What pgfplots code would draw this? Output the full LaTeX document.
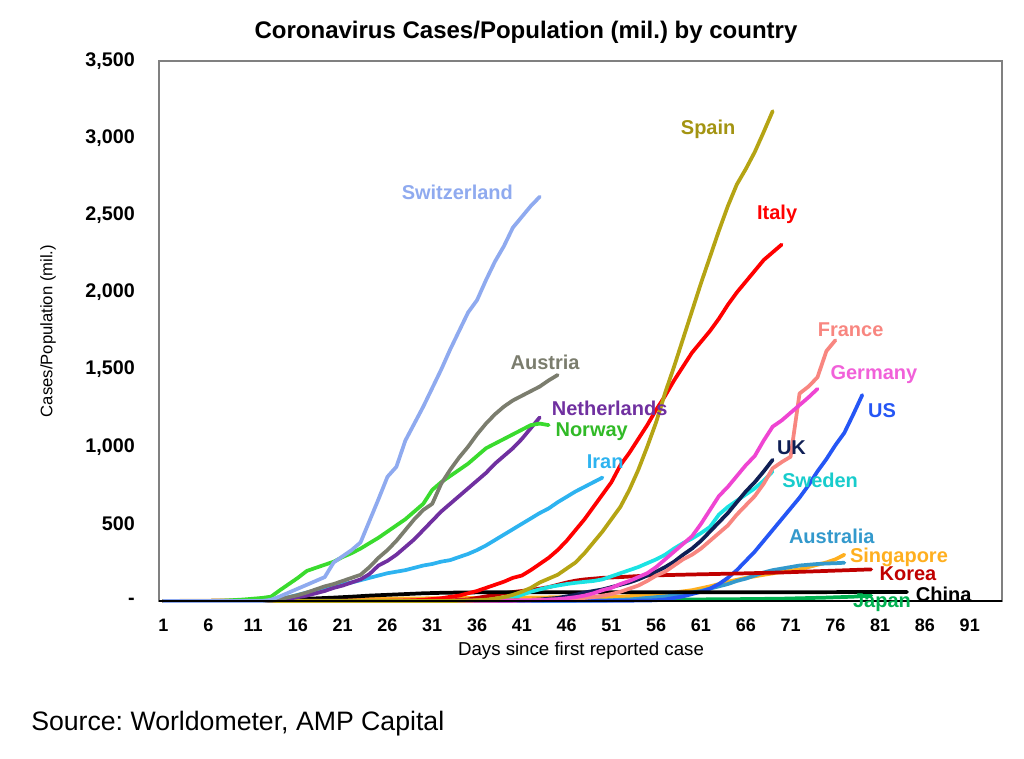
\documentclass[border=0pt]{standalone}
\usepackage{fontspec}
\setmainfont{Liberation Sans}
\usepackage{pgfplots}
\pgfplotsset{compat=1.18}
\definecolor{cSwi}{HTML}{8FAAEF}
\definecolor{cAut}{HTML}{7B7D6E}
\definecolor{cNet}{HTML}{7030A0}
\definecolor{cNor}{HTML}{3ADB2E}
\definecolor{cIra}{HTML}{2DB3F0}
\definecolor{cSpa}{HTML}{B5A414}
\definecolor{cIta}{HTML}{FF0000}
\definecolor{cFra}{HTML}{F88680}
\definecolor{cGer}{HTML}{EF45D2}
\definecolor{cUS}{HTML}{2556F5}
\definecolor{cUK}{HTML}{0F1F55}
\definecolor{cSwe}{HTML}{1BE3E3}
\definecolor{cAus}{HTML}{3399CC}
\definecolor{cSin}{HTML}{FFAF1F}
\definecolor{cKor}{HTML}{C00000}
\definecolor{cChi}{HTML}{000000}
\definecolor{cJap}{HTML}{00B050}
\tikzset{lbl/.style={font=\bfseries\fontsize{15}{17}\selectfont, inner sep=0pt}}
\frenchspacing
\begin{document}
\begin{tikzpicture}
\begin{axis}[
  scale only axis, width=632.25pt, height=405pt,
  xmin=0.5, xmax=94.6, ymin=0, ymax=3500,
  xtick={1,6,...,91},
  xticklabels={1,6,11,16,21,26,31,36,41,46,51,56,61,66,71,76,81,86,91},
  ytick={0,500,...,3500},
  yticklabels={-,500,{1,000},{1,500},{2,000},{2,500},{3,000},{3,500}},
  major tick length=0pt,
  axis line style={draw=gray, line width=0.8pt},
  xticklabel style={font=\bfseries\fontsize{13.5}{15}\selectfont, anchor=north, inner sep=0pt, yshift=-13.5pt},
  yticklabel style={font=\bfseries\fontsize{14.8}{16}\selectfont, anchor=east, inner sep=0pt, xshift=-18pt},
  clip=false,
  every axis plot/.append style={line width=2.8pt, line join=round, line cap=round},
]
\coordinate (O) at (rel axis cs:0,0);
% Japan
\addplot[color=cJap] coordinates {(1,0)(20,0.5)(30,1)(40,3)(50,6)(55,8)(60,10)(65,12)(70,15)(75,22)(78,28)(80,35)};
% Singapore
\addplot[color=cSin] coordinates {(1,0)(5,2)(10,4)(15,8)(20,12)(25,15)(30,17)(35,19)(40,22)(45,24)(50,25)(52,28)(54,35)(56,45)(58,55)(60,70)(62,95)(64,125)(66,150)(68,170)(70,188)(72,205)(74,235)(75,250)(76,270)(77,300)};
% Australia
\addplot[color=cAus] coordinates {(1,0)(40,1)(50,3)(51,5)(52,8)(53,10)(54,15)(55,20)(56,25)(57,30)(58,35)(59,45)(60,55)(61,65)(62,80)(63,95)(64,110)(65,130)(66,145)(67,165)(68,185)(69,200)(70,210)(71,220)(72,230)(73,235)(74,240)(75,243)(76,245)(77,248)};
% US
\addplot[color=cUS] coordinates {(1,0)(50,1)(55,3)(56,5)(57,10)(58,20)(59,30)(60,45)(61,60)(62,80)(63,110)(64,150)(65,200)(66,260)(67,320)(68,390)(69,460)(70,530)(71,600)(72,670)(73,750)(74,840)(75,920)(76,1010)(77,1090)(78,1210)(79,1335)};
% Korea
\addplot[color=cKor] coordinates {(1,0)(29,1)(31,1)(32,2)(33,4)(34,7)(35,10)(36,20)(37,30)(38,40)(39,50)(40,58)(41,65)(42,72)(43,80)(44,90)(45,105)(46,120)(47,132)(48,140)(49,145)(50,150)(52,155)(55,165)(60,172)(65,178)(70,185)(75,195)(80,205)};
% China
\addplot[color=cChi] coordinates {(1,0)(5,0.5)(10,2)(12,4)(14,8)(16,12)(18,17)(20,22)(22,28)(24,35)(26,40)(28,45)(30,50)(32,53)(34,55)(36,56)(40,57)(50,57)(60,57)(70,57)(80,58)(84,58)};
% Sweden
\addplot[color=cSwe] coordinates {(1,0)(37,0.5)(38,2)(39,8)(40,20)(41,40)(42,60)(43,75)(44,90)(45,100)(46,110)(47,118)(48,124)(49,130)(50,140)(51,160)(52,180)(53,200)(54,220)(55,245)(56,270)(57,300)(58,340)(59,375)(60,405)(61,440)(62,480)(63,560)(64,610)(65,650)(66,690)(67,730)(68,780)(69,840)};
% UK
\addplot[color=cUK] coordinates {(1,0)(35,0)(36,1)(37,1)(38,2)(39,3)(40,4)(41,5)(42,7)(43,10)(44,15)(45,20)(46,30)(47,40)(48,55)(49,65)(50,75)(51,90)(52,105)(53,120)(54,140)(55,165)(56,190)(57,220)(58,255)(59,300)(60,340)(61,390)(62,450)(63,510)(64,570)(65,640)(66,710)(67,770)(68,840)(69,915)};
% France
\addplot[color=cFra] coordinates {(1,0)(35,2)(40,5)(45,10)(46,12)(47,15)(48,20)(49,25)(50,35)(51,45)(52,60)(53,80)(54,100)(55,130)(56,165)(57,190)(58,230)(59,270)(60,300)(61,340)(62,390)(63,440)(64,490)(65,560)(66,620)(67,680)(68,760)(69,860)(70,900)(71,935)(72,1345)(73,1390)(74,1450)(75,1620)(76,1690)};
% Germany
\addplot[color=cGer] coordinates {(1,0)(30,1)(40,2)(41,3)(42,4)(43,5)(44,8)(45,12)(46,18)(47,25)(48,35)(49,50)(50,70)(51,85)(52,110)(53,130)(54,155)(55,180)(56,220)(57,270)(58,320)(59,370)(60,420)(61,500)(62,590)(63,680)(64,740)(65,810)(66,880)(67,940)(68,1040)(69,1130)(70,1170)(71,1220)(72,1270)(73,1320)(74,1375)};
% Iran
\addplot[color=cIra] coordinates {(1,0)(10,0)(11,1)(12,3)(13,8)(14,15)(15,25)(16,40)(17,55)(18,70)(19,85)(20,100)(21,110)(22,120)(23,135)(24,150)(25,165)(26,180)(27,190)(28,200)(29,215)(30,230)(31,240)(32,255)(33,265)(34,285)(35,305)(36,330)(37,360)(38,395)(39,430)(40,465)(41,500)(42,535)(43,570)(44,600)(45,640)(46,675)(47,710)(48,740)(49,770)(50,800)};
% Italy
\addplot[color=cIta] coordinates {(1,0)(20,0)(21,1)(27,1)(28,3)(29,5)(30,8)(31,13)(32,18)(33,27)(34,35)(35,50)(36,65)(37,85)(38,105)(39,125)(40,150)(41,165)(42,200)(43,240)(44,280)(45,330)(46,390)(47,460)(48,530)(49,610)(50,690)(51,770)(52,880)(53,960)(54,1050)(55,1140)(56,1240)(57,1330)(58,1430)(59,1520)(60,1610)(61,1680)(62,1750)(63,1830)(64,1920)(65,2000)(66,2070)(67,2140)(68,2210)(69,2260)(70,2310)};
% Spain
\addplot[color=cSpa] coordinates {(1,0)(33,0)(34,1)(35,3)(36,5)(37,8)(38,15)(39,25)(40,40)(41,60)(42,85)(43,120)(44,145)(45,170)(46,210)(47,250)(48,310)(49,380)(50,450)(51,530)(52,610)(53,720)(54,850)(55,1000)(56,1160)(57,1350)(58,1520)(59,1700)(60,1880)(61,2060)(62,2230)(63,2400)(64,2560)(65,2700)(66,2800)(67,2910)(68,3040)(69,3175)};
% Netherlands
\addplot[color=cNet] coordinates {(1,0)(12,0)(13,3)(14,8)(15,15)(16,25)(17,35)(18,50)(19,65)(20,85)(21,100)(22,120)(23,140)(24,175)(25,230)(26,260)(27,300)(28,350)(29,400)(30,460)(31,520)(32,580)(33,630)(34,680)(35,730)(36,780)(37,830)(38,890)(39,940)(40,990)(41,1050)(42,1120)(43,1190)};
% Norway
\addplot[color=cNor] coordinates {(1,0)(7,0)(8,3)(10,10)(12,20)(13,28)(14,70)(15,110)(16,150)(17,195)(18,215)(19,235)(20,255)(21,285)(22,310)(23,340)(24,375)(25,410)(26,450)(27,490)(28,530)(29,580)(30,630)(31,720)(32,770)(33,810)(34,850)(35,890)(36,940)(37,990)(38,1020)(39,1050)(40,1080)(41,1110)(42,1140)(43,1150)(44,1140)};
% Austria
\addplot[color=cAut] coordinates {(1,0)(12,0)(13,2)(14,12)(15,25)(16,38)(17,55)(18,75)(19,95)(20,110)(21,130)(22,150)(23,170)(24,220)(25,280)(26,330)(27,390)(28,460)(29,530)(30,590)(31,630)(32,760)(33,850)(34,930)(35,1000)(36,1080)(37,1150)(38,1210)(39,1260)(40,1300)(41,1330)(42,1360)(43,1390)(44,1430)(45,1465)};
% Switzerland
\addplot[color=cSwi] coordinates {(1,0)(12,0)(13,8)(14,30)(15,55)(16,80)(17,105)(18,130)(19,155)(20,250)(21,290)(22,330)(23,380)(24,520)(25,660)(26,805)(27,870)(28,1040)(29,1150)(30,1260)(31,1380)(32,1500)(33,1630)(34,1750)(35,1870)(36,1950)(37,2080)(38,2200)(39,2300)(40,2420)(41,2490)(42,2560)(43,2620)};
\draw[black, line width=1pt] (axis cs:0.5,0) -- (axis cs:94.6,0);
% labels
\node[lbl, text=cSwi] at (axis cs:33.8,2649) {Switzerland};
\node[lbl, text=cAut] at (axis cs:43.6,1545) {Austria};
\node[lbl, text=cNet] at (axis cs:50.8,1247) {Netherlands};
\node[lbl, text=cNor!85!black] at (axis cs:48.8,1097) {Norway};
\node[lbl, text=cIra] at (axis cs:50.3,903) {Iran};
\node[lbl, text=cSpa!90!black] at (axis cs:61.8,3058) {Spain};
\node[lbl, text=cIta] at (axis cs:69.5,2506) {Italy};
\node[lbl, text=cFra] at (axis cs:77.7,1760) {France};
\node[lbl, text=cGer!85!white] at (axis cs:80.3,1468) {Germany};
\node[lbl, text=cUS] at (axis cs:81.2,1234) {US};
\node[lbl, text=cUK] at (axis cs:71.1,994) {UK};
\node[lbl, text=cSwe!90!black] at (axis cs:74.3,779) {Sweden};
\node[lbl, text=cAus] at (axis cs:75.6,416) {Australia};
\node[lbl, text=cSin] at (axis cs:83.1,286) {Singapore};
\node[lbl, text=cKor] at (axis cs:84.1,175) {Korea};
\node[lbl, text=cChi] at (axis cs:88.1,45) {China};
\node[lbl, text=cJap] at (axis cs:81.2,-13) {Japan};
\end{axis}
\node[font=\bfseries\fontsize{18}{21}\selectfont, anchor=base, inner sep=0pt] at ([shift={(275.25pt,421.5pt)}]O) {Coronavirus Cases/Population (mil.) by country};
\node[font=\fontsize{12.5}{14}\selectfont, rotate=90, inner sep=0pt] at ([shift={(-83.25pt,202.5pt)}]O) {Cases/Population (mil.)};
\node[font=\fontsize{14}{16}\selectfont, inner sep=0pt] at ([shift={(316.5pt,-37.5pt)}]O) {Days since first reported case};
\node[font=\fontsize{20}{23}\selectfont, anchor=base west, inner sep=0pt] at ([shift={(-96pt,-96.75pt)}]O) {Source: Worldometer, AMP Capital};
\path ([shift={(-119.25pt,-117.75pt)}]O) rectangle ++(768pt,568.5pt);
\end{tikzpicture}
\end{document}
